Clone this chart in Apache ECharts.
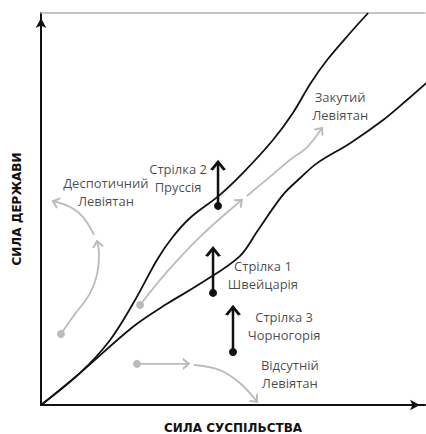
<!DOCTYPE html>
<html>
<head>
<meta charset="utf-8">
<script src="https://cdn.jsdelivr.net/npm/echarts@6/dist/echarts.min.js"></script>
<style>
  html, body { margin: 0; padding: 0; background: #fff; }
  #chart { width: 426px; height: 434px; }
</style>
</head>
<body>
<div id="chart"></div>
<script>
// крива межі (верхня та нижня), у відсотках від осей
var upperCurve = [[0, 0], [10.2, 8.2], [18.0, 16.6], [24.5, 26.8], [30.2, 37.0], [34.1, 42.6],
    [38.8, 47.7], [46.6, 53.6], [52.6, 59.2], [60.4, 67.6], [65.6, 74.5], [70.1, 81.9], [74.5, 88.0], [80.5, 94.9], [85.2, 100]];
var lowerCurve = [[0, 0], [10.2, 8.2], [23.9, 19.9], [32.8, 25.8], [41.4, 30.9], [51.8, 38.0],
    [56.5, 44.6], [63.0, 53.6], [67.5, 57.9], [71.9, 61.7], [80.5, 66.8], [89.1, 72.7], [95.3, 77.8], [100.3, 82.1]];

// сірі стрілки
var despotPath1 = [[5.2, 18.1], [8.3, 22.5], [12.8, 28.6], [14.8, 34.4], [15.1, 39.0], [14.6, 41.8]];
var despotPath2 = [[13.8, 43.4], [10.9, 48.0], [7.6, 50.5], [3.1, 52.0]];
var lockedPath1 = [[25.8, 25.5], [32.3, 33.4], [41.4, 42.9], [52.3, 52.3]];
var lockedPath2 = [[53.6, 53.3], [59.6, 58.2], [64.8, 62.5], [69.3, 65.8], [73.2, 70.7]];
var absentPath1 = [[25.0, 10.5], [38.5, 10.5]];
var absentPath2 = [[39.8, 10.2], [46.6, 8.9], [51.8, 5.6], [56.3, 0.8]];

// чорні стрілки
var arrowPrussia = [[46.1, 50.8], [46.1, 62.0]];
var arrowSwiss = [[44.8, 28.6], [44.8, 40.0]];
var arrowMontenegro = [[50.0, 13.5], [50.0, 25.0]];

var labelTexts = ['Деспотичний\nЛевіятан', 'Стрілка 2\nПруссія', 'Закутий\nЛевіятан',
    'Стрілка 1\nШвейцарія', 'Стрілка 3\nЧорногорія', 'Відсутній\nЛевіятан'];
var labelPoints = [[16.9, 54.3], [35.7, 57.9], [77.9, 76.3], [57.8, 33.2], [63.3, 20.2], [64.8, 7.9]];

var xAxisName = 'СИЛА СУСПІЛЬСТВА';
var yAxisName = 'СИЛА ДЕРЖАВИ';

var GRAY = '#bbbbbb';
var CHEVRON = 'path://M0,9 L8,0 L16,9';
var PX_X = 3.84, PX_Y = 3.92;

function head(p, prev, w, h, color, lw) {
    var a = Math.atan2((p[1] - prev[1]) * PX_Y, (p[0] - prev[0]) * PX_X);
    return {
        value: p,
        symbol: CHEVRON,
        symbolSize: [w, h],
        symbolRotate: a * 180 / Math.PI - 90,
        symbolOffset: [-(h / 2) * Math.cos(a), (h / 2) * Math.sin(a)],
        itemStyle: { color: 'rgba(0,0,0,0)', borderColor: color, borderWidth: lw }
    };
}

function arrowSeries(points, color, width, withDot, hw, hh) {
    var n = points.length;
    var data = points.map(function (p, i) {
        if (i === n - 1) return head(p, points[i - 1], hw, hh, color, width);
        if (i === 0 && withDot) {
            return { value: p, symbol: 'circle', symbolSize: 8, itemStyle: { color: color, borderWidth: 0 } };
        }
        return { value: p };
    });
    return {
        type: 'line',
        smooth: n > 2 ? 0.4 : false,
        symbol: 'none',
        silent: true,
        lineStyle: { color: color, width: width },
        data: data
    };
}

var myChart = echarts.init(document.getElementById('chart'), null, { renderer: 'svg' });

var option = {
    animation: false,
    grid: { left: 41, right: 1, top: 13, bottom: 29, outerBoundsMode: 'none', containLabel: false },
    xAxis: [
        {
            type: 'value', min: 0, max: 100,
            name: xAxisName, nameLocation: 'middle', nameGap: 17,
            nameTextStyle: { fontFamily: 'DejaVu Sans', fontWeight: 'bold', fontSize: 12, color: '#111' },
            axisLine: { lineStyle: { color: '#111', width: 2 }, symbol: ['none', 'arrow'], symbolSize: [8, 10], symbolOffset: [0, -5] },
            axisTick: { show: false }, axisLabel: { show: false }, splitLine: { show: false }
        },
        {
            type: 'value', min: 0, max: 100, position: 'top',
            axisLine: { show: true, lineStyle: { color: '#b3b3b3', width: 1.5 } },
            axisTick: { show: false }, axisLabel: { show: false }, splitLine: { show: false }
        }
    ],
    yAxis: {
        type: 'value', min: 0, max: 100,
        name: yAxisName, nameLocation: 'middle', nameGap: 18,
        nameTextStyle: { fontFamily: 'DejaVu Sans', fontWeight: 'bold', fontSize: 12, color: '#111' },
        axisLine: { lineStyle: { color: '#111', width: 2 }, symbol: ['none', 'arrow'], symbolSize: [8, 10], symbolOffset: [0, -5] },
        axisTick: { show: false }, axisLabel: { show: false }, splitLine: { show: false }
    },
    series: [
        { type: 'line', smooth: 0.35, symbol: 'none', silent: true, lineStyle: { color: '#111', width: 1.8 }, data: upperCurve },
        { type: 'line', smooth: 0.35, symbol: 'none', silent: true, lineStyle: { color: '#111', width: 1.8 }, data: lowerCurve },
        arrowSeries(despotPath1, GRAY, 1.8, true, 10, 6),
        arrowSeries(despotPath2, GRAY, 1.8, false, 10, 6),
        arrowSeries(lockedPath1, GRAY, 1.8, true, 10, 6),
        arrowSeries(lockedPath2, GRAY, 1.8, false, 10, 6),
        arrowSeries(absentPath1, GRAY, 1.8, true, 10, 6),
        arrowSeries(absentPath2, GRAY, 1.8, false, 10, 6),
        arrowSeries(arrowPrussia, '#111', 2.5, true, 13, 8),
        arrowSeries(arrowSwiss, '#111', 2.5, true, 13, 8),
        arrowSeries(arrowMontenegro, '#111', 2.5, true, 13, 8),
        {
            type: 'scatter',
            symbolSize: 0,
            silent: true,
            label: {
                show: true,
                position: 'inside',
                formatter: function (p) { return labelTexts[p.dataIndex]; },
                fontFamily: 'Open Sans',
                fontSize: 13,
                lineHeight: 18,
                color: '#1a1a1a',
                align: 'center',
                verticalAlign: 'middle'
            },
            data: labelPoints
        }
    ]
};
myChart.setOption(option);
</script>
</body>
</html>
